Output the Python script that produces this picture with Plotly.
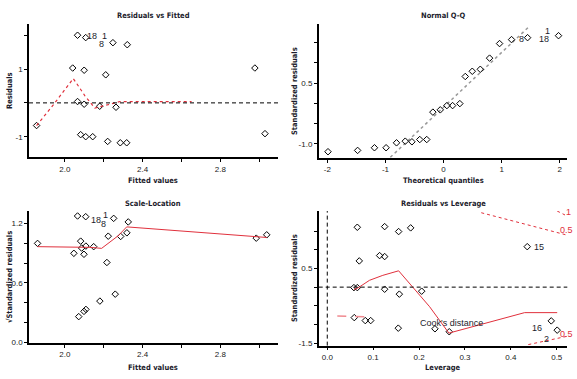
import plotly.graph_objects as go

# ---------------- data ----------------
# Residuals vs Fitted
rf_fitted = [1.854, 2.065, 2.107, 2.040, 2.099, 2.210, 2.247, 2.321, 2.065, 2.099,
             2.179, 2.263, 2.081, 2.107, 2.143, 2.220, 2.285, 2.318, 2.978, 3.030]
rf_resid = [-0.67, 2.00, 1.93, 1.03, 0.965, 0.83, 1.78, 1.72, 0.04, -0.04,
            -0.10, -0.13, -0.94, -1.00, -1.00, -1.14, -1.18, -1.18, 1.03, -0.91]
rf_smooth_x = [1.854, 1.94, 2.043, 2.103, 2.154, 2.180, 2.232, 2.283, 2.652]
rf_smooth_y = [-0.67, -0.06, 0.72, 0.21, -0.155, -0.11, -0.04, 0.04, 0.04]
rf_labels = ["18", "1", "8"]
rf_label_x = [2.137, 2.206, 2.189]
rf_label_y = [1.99, 1.99, 1.75]

# Normal Q-Q
qq_theo = [-1.99, -1.48, -1.19, -0.99, -0.81, -0.66, -0.545, -0.41, -0.29, -0.184, -0.057,
           0.057, 0.155, 0.28, 0.373, 0.494, 0.632, 0.792, 0.964, 1.17, 1.446, 1.979]
qq_std = [-1.196, -1.164, -1.098, -1.098, -0.976, -0.936, -0.951, -0.895, -0.895, -0.218, -0.161,
          -0.056, -0.056, -0.007, 0.663, 0.792, 0.841, 1.117, 1.477, 1.575, 1.623, 1.672]
qq_line_x = [-0.917, 1.475]
qq_line_y = [-1.335, 1.90]
qq_labels = ["8", "18", "1"]
qq_label_x = [1.348, 1.721, 1.785]
qq_label_y = [1.59, 1.60, 1.80]

# Scale-Location
sl_fitted = [1.859, 2.065, 2.107, 2.251, 2.326, 2.081, 2.086, 2.108, 2.148, 2.046, 2.098,
             2.223, 2.287, 2.319, 2.216, 2.259, 2.180, 2.108, 2.098, 2.071, 2.985, 3.039]
sl_sqrt = [1.00, 1.277, 1.27, 1.253, 1.217, 1.023, 0.953, 0.973, 0.967, 0.90, 0.89,
           1.073, 1.07, 1.107, 0.807, 0.487, 0.417, 0.333, 0.313, 0.26, 1.053, 1.087]
sl_smooth_x = [1.859, 2.129, 2.189, 2.232, 2.274, 2.318, 3.039]
sl_smooth_y = [0.967, 0.96, 0.95, 1.01, 1.077, 1.167, 1.06]
sl_labels = ["18", "8", "1"]
sl_label_x = [2.160, 2.196, 2.208]
sl_label_y = [1.237, 1.20, 1.285]

# Residuals vs Leverage
lv_lev = [0.0654, 0.125, 0.1555, 0.1817, 0.4357, 0.0697, 0.114, 0.125, 0.058, 0.0654, 0.125,
          0.157, 0.2057, 0.0588, 0.0828, 0.0946, 0.1547, 0.2346, 0.2658, 0.488, 0.501]
lv_std = [1.605, 1.623, 1.49, 1.589, 1.085, 0.703, 0.846, 0.82, -0.013, -0.013, -0.056,
          -0.188, -0.109, -0.817, -0.897, -0.897, -1.10, -1.117, -1.196, -0.905, -1.154]
lv_smooth_x = [0.058, 0.067, 0.092, 0.121, 0.1555, 0.223, 0.265, 0.430, 0.501]
lv_smooth_y = [-0.066, -0.02, 0.183, 0.316, 0.438, -0.525, -1.233, -0.684, -0.684]
cook1_x = [0.501, 0.518]
cook1_y = [2.04, 1.934]
cook05_up_x = [0.3355, 0.523]
cook05_up_y = [1.995, 1.393]
cook05_lo_x = [0.438, 0.5215]
cook05_lo_y = [-1.541, -1.321]
cook_left_x = [0.0218, 0.0828]
cook_left_y = [-0.772, -0.798]
lv_labels = ["15", "16", "2"]
lv_label_x = [0.4606, 0.456, 0.478]
lv_label_y = [1.085, -1.10, -1.38]
cook_labels = ["1", "0.5", "0.5"]

# ---------------- styles ----------------
W, H = 577, 379
RED = "#e0303c"
TXT = "#1c1c2c"
TICKFONT = dict(family="Liberation Sans, Arial, sans-serif", size=8, color="#222")
BOLD = "DejaVu Sans Condensed, Liberation Sans Narrow, Arial Narrow, Liberation Sans, sans-serif"
mk = dict(symbol="diamond-open", size=5, color="black", line=dict(width=1, color="black"))

def px(x):
    return x / W

def py(y):
    return 1 - y / H

fig = go.Figure()

def pts(x, y, xa, ya):
    fig.add_trace(go.Scatter(x=x, y=y, mode="markers", marker=mk, xaxis=xa, yaxis=ya,
                             showlegend=False, hoverinfo="skip"))

def line(x, y, xa, ya, color, dash, width=1):
    fig.add_trace(go.Scatter(x=x, y=y, mode="lines", line=dict(color=color, dash=dash, width=width),
                             xaxis=xa, yaxis=ya, showlegend=False, hoverinfo="skip"))

def labels(txts, xs, ys, xa, ya, color=TXT, size=9, xanchor="center"):
    for t, x, y in zip(txts, xs, ys):
        fig.add_annotation(text=t, x=x, y=y, xref=xa, yref=ya, showarrow=False, xanchor=xanchor,
                           borderpad=0,
                           font=dict(family="Liberation Sans, Arial", size=size, color=color))

# panel 1
pts(rf_fitted, rf_resid, "x", "y")
line(rf_smooth_x, rf_smooth_y, "x", "y", RED, "dot", 1.2)
labels(rf_labels, rf_label_x, rf_label_y, "x", "y")
# panel 2
line(qq_line_x, qq_line_y, "x2", "y2", "#999999", "dot", 1.5)
pts(qq_theo, qq_std, "x2", "y2")
labels(qq_labels, qq_label_x, qq_label_y, "x2", "y2")
# panel 3
pts(sl_fitted, sl_sqrt, "x3", "y3")
line(sl_smooth_x, sl_smooth_y, "x3", "y3", RED, "solid", 1)
labels(sl_labels, sl_label_x, sl_label_y, "x3", "y3")
# panel 4
pts(lv_lev, lv_std, "x4", "y4")
line(lv_smooth_x, lv_smooth_y, "x4", "y4", RED, "solid", 1)
line(cook1_x, cook1_y, "x4", "y4", RED, "dot", 1)
line(cook05_up_x, cook05_up_y, "x4", "y4", RED, "dot", 1)
line(cook05_lo_x, cook05_lo_y, "x4", "y4", RED, "dot", 1)
line(cook_left_x, cook_left_y, "x4", "y4", "#f08a90", "dash", 1.5)
labels(lv_labels, lv_label_x, lv_label_y, "x4", "y4")
# Cook's distance contour labels, placed at the right margin of panel 4
for t, (cx, cy) in zip(cook_labels, [(568, 214), (566, 232), (566, 338)]):
    fig.add_annotation(text=t, x=px(cx), y=py(cy), xref="paper", yref="paper", showarrow=False,
                       xanchor="center", yanchor="middle", borderpad=0,
                       font=dict(family="Liberation Sans, Arial", size=9, color=RED))
fig.add_annotation(text="Cook's distance", x=0.271, y=-0.95, xref="x4", yref="y4", showarrow=False,
                   font=dict(family="Liberation Sans, Arial", size=9, color=TXT))

# dashed reference lines
DASH = "4px,3px"
for xa, ya in [("x", "y"), ("x4", "y4")]:
    fig.add_shape(type="line", xref=xa + " domain", yref=ya, x0=0, x1=1, y0=0, y1=0,
                  line=dict(color="black", width=1, dash=DASH))
fig.add_shape(type="line", xref="x4", yref="y4 domain", x0=0, x1=0, y0=0, y1=1,
              line=dict(color="black", width=1, dash=DASH))

def ax(domain, rng, tv, tt, anchor):
    return dict(domain=domain, range=rng, tickvals=tv, ticktext=tt, anchor=anchor,
                showline=True, linecolor="black", linewidth=1.5, mirror=False,
                showgrid=False, zeroline=False, ticks="outside", ticklen=3, tickwidth=1,
                tickcolor="black", tickfont=TICKFONT)

xd1 = [px(29), px(278)]
xd2 = [px(318.7), px(567.3)]
yd1 = [py(159), py(24)]
yd2 = [py(159.7), py(24)]
yd3 = [py(346.7), py(213.3)]
yd4 = [py(349.3), py(213.3)]

fv_tv = [2.0, 2.2, 2.4, 2.6, 2.8, 3.0]
fv_tt = ["2.0", "", "2.4", "", "2.8", ""]

fig.update_layout(
    width=W, height=H, margin=dict(l=0, r=0, t=0, b=0),
    paper_bgcolor="white", plot_bgcolor="white",
    xaxis=ax(xd1, [1.815, 3.097], fv_tv, fv_tt, "y"),
    yaxis=ax(yd1, [-1.61, 2.34], [-1, 0, 1, 2], ["-1", "", "1", ""], "x"),
    xaxis2=ax(xd2, [-2.15, 2.13], [-2, -1, 0, 1, 2], ["-2", "-1", "0", "1", "2"], "y2"),
    yaxis2=ax(yd2, [-1.352, 1.967], [-1, -0.5, 0, 0.5, 1, 1.5], ["-1.0", "", "", "0.5", "", ""], "x2"),
    xaxis3=ax(xd1, [1.815, 3.097], fv_tv, fv_tt, "y3"),
    yaxis3=ax(yd3, [-0.007, 1.327], [0, 0.2, 0.4, 0.6, 0.8, 1.0, 1.2],
              ["0.0", "", "", "0.6", "", "", "1.2"], "x3"),
    xaxis4=ax(xd2, [-0.0187, 0.523], [0, 0.1, 0.2, 0.3, 0.4, 0.5],
              ["0.0", "0.1", "0.2", "0.3", "0.4", "0.5"], "y4"),
    yaxis4=ax(yd4, [-1.568, 2.04], [-1.5, -1, -0.5, 0, 0.5, 1, 1.5],
              ["-1.5", "", "", "", "0.5", "", ""], "x4"),
)

def title(text, x, y, angle=0, size=7.5):
    fig.add_annotation(text="<b>" + text + "</b>", x=px(x), y=py(y), xref="paper", yref="paper",
                       showarrow=False, textangle=angle, xanchor="center", yanchor="middle",
                       font=dict(family=BOLD, size=size, color=TXT))

title("Residuals vs Fitted", 153, 16)
title("Normal Q-Q", 443, 16)
title("Scale-Location", 153, 206)
title("Residuals vs Leverage", 443, 206)
title("Fitted values", 153, 182)
title("Theoretical quantiles", 443, 182)
title("Fitted values", 153, 371)
title("Leverage", 443, 371)
title("Residuals", 9, 92, -90)
title("Standardized residuals", 294, 92, -90)
title("√Standardized residuals", 9, 280, -90)
title("Standardized residuals", 294, 281, -90)

fig.write_html("out.html", config={"displayModeBar": False},
               post_script="document.body.style.margin='0';document.body.style.overflow='hidden';")
